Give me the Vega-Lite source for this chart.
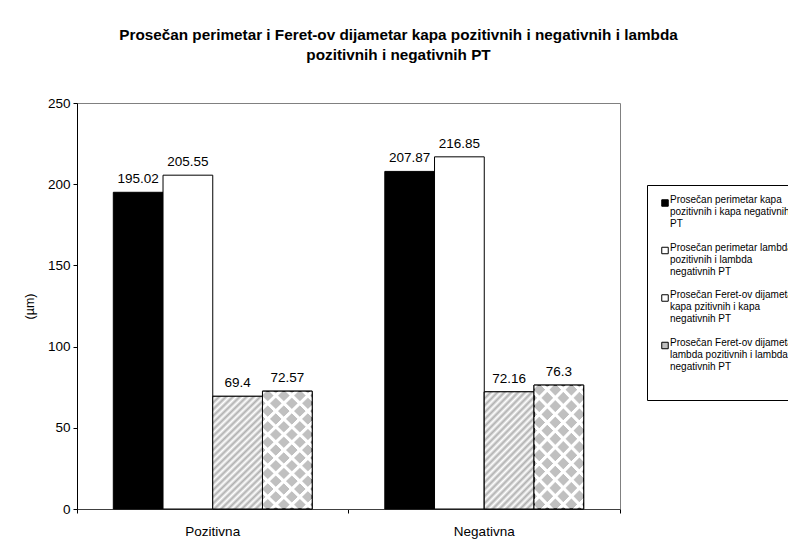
{
  "$schema": "https://vega.github.io/schema/vega-lite/v6.json",
  "width": 543,
  "height": 406,
  "autosize": "none",
  "padding": {"left": 77, "top": 103, "right": 168, "bottom": 34},
  "background": "white",
  "config": {
    "font": "Liberation Sans",
    "view": {"stroke": "#808080", "strokeWidth": 1},
    "axis": {"labelFont": "Liberation Sans", "titleFont": "Liberation Sans", "labelColor": "black", "titleColor": "black", "domainColor": "black", "tickColor": "black", "grid": false}
  },
  "title": {
    "text": ["Prosečan perimetar i Feret-ov dijametar kapa pozitivnih i negativnih i lambda", "pozitivnih i negativnih PT"],
    "font": "Liberation Sans",
    "fontSize": 15.3,
    "fontWeight": "bold",
    "color": "black",
    "anchor": "middle",
    "dx": 50,
    "lineHeight": 20,
    "offset": 33
  },
  "data": {
    "values": [
      {"cat": "Pozitivna", "s": "Prosečan perimetar kapa pozitivnih i kapa negativnih PT", "v": 195.02},
      {"cat": "Pozitivna", "s": "Prosečan perimetar lambda pozitivnih i lambda negativnih PT", "v": 205.55},
      {"cat": "Pozitivna", "s": "Prosečan Feret-ov dijametar kapa pzitivnih i kapa negativnih PT", "v": 69.4},
      {"cat": "Pozitivna", "s": "Prosečan Feret-ov dijametar lambda pozitivnih i lambda negativnih PT", "v": 72.57},
      {"cat": "Negativna", "s": "Prosečan perimetar kapa pozitivnih i kapa negativnih PT", "v": 207.87},
      {"cat": "Negativna", "s": "Prosečan perimetar lambda pozitivnih i lambda negativnih PT", "v": 216.85},
      {"cat": "Negativna", "s": "Prosečan Feret-ov dijametar kapa pzitivnih i kapa negativnih PT", "v": 72.16},
      {"cat": "Negativna", "s": "Prosečan Feret-ov dijametar lambda pozitivnih i lambda negativnih PT", "v": 76.3}
    ]
  },
  "encoding": {
    "x": {
      "field": "cat", "type": "nominal", "sort": ["Pozitivna", "Negativna"],
      "scale": {"paddingInner": 0, "paddingOuter": 0},
      "axis": {"title": null, "labelAngle": 0, "labelFontSize": 13.5, "labelPadding": 11, "tickSize": 4, "bandPosition": 1, "tickExtra": true, "domainColor": "#404040"}
    },
    "xOffset": {
      "field": "s", "type": "nominal",
      "scale": {"domain": ["Prosečan perimetar kapa pozitivnih i kapa negativnih PT", "Prosečan perimetar lambda pozitivnih i lambda negativnih PT", "Prosečan Feret-ov dijametar kapa pzitivnih i kapa negativnih PT", "Prosečan Feret-ov dijametar lambda pozitivnih i lambda negativnih PT"], "paddingInner": 0, "paddingOuter": 0.73}
    },
    "y": {
      "field": "v", "type": "quantitative",
      "scale": {"domain": [0, 250], "nice": false},
      "axis": {"title": "(µm)", "titleFontSize": 12.5, "titleFontWeight": "normal", "titlePadding": 11, "values": [0, 50, 100, 150, 200, 250], "labelFontSize": 13.5, "tickSize": 4, "labelPadding": 3}
    }
  },
  "layer": [
    {
      "mark": {"type": "bar", "stroke": "black", "strokeWidth": 1},
      "encoding": {
        "color": {
          "field": "s", "type": "nominal",
          "scale": {"domain": ["Prosečan perimetar kapa pozitivnih i kapa negativnih PT", "Prosečan perimetar lambda pozitivnih i lambda negativnih PT", "Prosečan Feret-ov dijametar kapa pzitivnih i kapa negativnih PT", "Prosečan Feret-ov dijametar lambda pozitivnih i lambda negativnih PT"], "range": ["#000000", "#ffffff", "#ffffff", "#c0c0c0"]},
          "legend": {
            "title": " ",
            "titleOrient": "bottom",
            "titleFontSize": 10,
            "titlePadding": 5,
            "orient": "none",
            "direction": "vertical",
            "legendX": 570,
            "legendY": 82,
            "padding": 13,
            "strokeColor": "black",
            "fillColor": "white",
            "symbolType": "square",
            "symbolSize": 42,
            "symbolStrokeColor": "black",
            "symbolStrokeWidth": 1,
            "symbolOpacity": 1,
            "labelFont": "Liberation Sans",
            "labelFontSize": 10,
            "labelColor": "black",
            "labelLimit": 400,
            "labelOffset": 0,
            "labelBaseline": "alphabetic",
            "labelLineHeight": 10.7,
            "rowPadding": 13.5,
            "labelExpr": "datum.label == 'Prosečan perimetar kapa pozitivnih i kapa negativnih PT' ? ['Prosečan perimetar kapa', 'pozitivnih i kapa negativnih', 'PT'] : datum.label == 'Prosečan perimetar lambda pozitivnih i lambda negativnih PT' ? ['Prosečan perimetar lambda', 'pozitivnih i lambda', 'negativnih PT'] : datum.label == 'Prosečan Feret-ov dijametar kapa pzitivnih i kapa negativnih PT' ? ['Prosečan Feret-ov dijametar', 'kapa pzitivnih i kapa', 'negativnih PT'] : ['Prosečan Feret-ov dijametar', 'lambda pozitivnih i lambda', 'negativnih PT']"
          }
        }
      }
    },
    {
      "transform": [{"filter": "datum.s == 'Prosečan Feret-ov dijametar kapa pzitivnih i kapa negativnih PT'"}],
      "mark": {
        "type": "bar", "stroke": "black", "strokeWidth": 1,
        "fill": {
          "gradient": "linear", "x1": 0, "y1": 0, "x2": 0.52, "y2": 1.206,
          "stops": [
            {"offset": 0, "color": "#b0b0b0"}, {"offset": 0.020833, "color": "#ffffff"}, {"offset": 0.041667, "color": "#b0b0b0"}, {"offset": 0.0625, "color": "#ffffff"},
            {"offset": 0.083333, "color": "#b0b0b0"}, {"offset": 0.104167, "color": "#ffffff"}, {"offset": 0.125, "color": "#b0b0b0"}, {"offset": 0.145833, "color": "#ffffff"},
            {"offset": 0.166667, "color": "#b0b0b0"}, {"offset": 0.1875, "color": "#ffffff"}, {"offset": 0.208333, "color": "#b0b0b0"}, {"offset": 0.229167, "color": "#ffffff"},
            {"offset": 0.25, "color": "#b0b0b0"}, {"offset": 0.270833, "color": "#ffffff"}, {"offset": 0.291667, "color": "#b0b0b0"}, {"offset": 0.3125, "color": "#ffffff"},
            {"offset": 0.333333, "color": "#b0b0b0"}, {"offset": 0.354167, "color": "#ffffff"}, {"offset": 0.375, "color": "#b0b0b0"}, {"offset": 0.395833, "color": "#ffffff"},
            {"offset": 0.416667, "color": "#b0b0b0"}, {"offset": 0.4375, "color": "#ffffff"}, {"offset": 0.458333, "color": "#b0b0b0"}, {"offset": 0.479167, "color": "#ffffff"},
            {"offset": 0.5, "color": "#b0b0b0"}, {"offset": 0.520833, "color": "#ffffff"}, {"offset": 0.541667, "color": "#b0b0b0"}, {"offset": 0.5625, "color": "#ffffff"},
            {"offset": 0.583333, "color": "#b0b0b0"}, {"offset": 0.604167, "color": "#ffffff"}, {"offset": 0.625, "color": "#b0b0b0"}, {"offset": 0.645833, "color": "#ffffff"},
            {"offset": 0.666667, "color": "#b0b0b0"}, {"offset": 0.6875, "color": "#ffffff"}, {"offset": 0.708333, "color": "#b0b0b0"}, {"offset": 0.729167, "color": "#ffffff"},
            {"offset": 0.75, "color": "#b0b0b0"}, {"offset": 0.770833, "color": "#ffffff"}, {"offset": 0.791667, "color": "#b0b0b0"}, {"offset": 0.8125, "color": "#ffffff"},
            {"offset": 0.833333, "color": "#b0b0b0"}, {"offset": 0.854167, "color": "#ffffff"}, {"offset": 0.875, "color": "#b0b0b0"}, {"offset": 0.895833, "color": "#ffffff"},
            {"offset": 0.916667, "color": "#b0b0b0"}, {"offset": 0.9375, "color": "#ffffff"}, {"offset": 0.958333, "color": "#b0b0b0"}, {"offset": 0.979167, "color": "#ffffff"},
            {"offset": 1, "color": "#b0b0b0"}
          ]
        }
      }
    },
    {
      "transform": [{"filter": "datum.s == 'Prosečan Feret-ov dijametar lambda pozitivnih i lambda negativnih PT'"}],
      "mark": {
        "type": "bar", "strokeWidth": 0,
        "fill": {
          "gradient": "linear", "x1": 0, "y1": 0, "x2": 0.51, "y2": 1.245,
          "stops": [
            {"offset": 0, "color": "#ffffff"}, {"offset": 0.0182, "color": "#ffffff"}, {"offset": 0.0273, "color": "rgba(255,255,255,0)"}, {"offset": 0.0864, "color": "rgba(255,255,255,0)"},
            {"offset": 0.0909, "color": "#ffffff"}, {"offset": 0.1091, "color": "#ffffff"}, {"offset": 0.1182, "color": "rgba(255,255,255,0)"}, {"offset": 0.1773, "color": "rgba(255,255,255,0)"},
            {"offset": 0.1818, "color": "#ffffff"}, {"offset": 0.2, "color": "#ffffff"}, {"offset": 0.2091, "color": "rgba(255,255,255,0)"}, {"offset": 0.2682, "color": "rgba(255,255,255,0)"},
            {"offset": 0.2727, "color": "#ffffff"}, {"offset": 0.2909, "color": "#ffffff"}, {"offset": 0.3, "color": "rgba(255,255,255,0)"}, {"offset": 0.3591, "color": "rgba(255,255,255,0)"},
            {"offset": 0.3636, "color": "#ffffff"}, {"offset": 0.3818, "color": "#ffffff"}, {"offset": 0.3909, "color": "rgba(255,255,255,0)"}, {"offset": 0.45, "color": "rgba(255,255,255,0)"},
            {"offset": 0.4545, "color": "#ffffff"}, {"offset": 0.4727, "color": "#ffffff"}, {"offset": 0.4818, "color": "rgba(255,255,255,0)"}, {"offset": 0.5409, "color": "rgba(255,255,255,0)"},
            {"offset": 0.5455, "color": "#ffffff"}, {"offset": 0.5636, "color": "#ffffff"}, {"offset": 0.5727, "color": "rgba(255,255,255,0)"}, {"offset": 0.6318, "color": "rgba(255,255,255,0)"},
            {"offset": 0.6364, "color": "#ffffff"}, {"offset": 0.6545, "color": "#ffffff"}, {"offset": 0.6636, "color": "rgba(255,255,255,0)"}, {"offset": 0.7227, "color": "rgba(255,255,255,0)"},
            {"offset": 0.7273, "color": "#ffffff"}, {"offset": 0.7455, "color": "#ffffff"}, {"offset": 0.7545, "color": "rgba(255,255,255,0)"}, {"offset": 0.8136, "color": "rgba(255,255,255,0)"},
            {"offset": 0.8182, "color": "#ffffff"}, {"offset": 0.8364, "color": "#ffffff"}, {"offset": 0.8455, "color": "rgba(255,255,255,0)"}, {"offset": 0.9045, "color": "rgba(255,255,255,0)"},
            {"offset": 0.9091, "color": "#ffffff"}, {"offset": 0.9273, "color": "#ffffff"}, {"offset": 0.9364, "color": "rgba(255,255,255,0)"}, {"offset": 0.9955, "color": "rgba(255,255,255,0)"},
            {"offset": 1, "color": "#ffffff"}
          ]
        }
      }
    },
    {
      "transform": [{"filter": "datum.s == 'Prosečan Feret-ov dijametar lambda pozitivnih i lambda negativnih PT'"}],
      "mark": {
        "type": "bar", "stroke": "black", "strokeWidth": 1,
        "fill": {
          "gradient": "linear", "x1": 0, "y1": 1, "x2": 0.51, "y2": -0.245,
          "stops": [
            {"offset": 0, "color": "#ffffff"}, {"offset": 0.0182, "color": "#ffffff"}, {"offset": 0.0273, "color": "rgba(255,255,255,0)"}, {"offset": 0.0864, "color": "rgba(255,255,255,0)"},
            {"offset": 0.0909, "color": "#ffffff"}, {"offset": 0.1091, "color": "#ffffff"}, {"offset": 0.1182, "color": "rgba(255,255,255,0)"}, {"offset": 0.1773, "color": "rgba(255,255,255,0)"},
            {"offset": 0.1818, "color": "#ffffff"}, {"offset": 0.2, "color": "#ffffff"}, {"offset": 0.2091, "color": "rgba(255,255,255,0)"}, {"offset": 0.2682, "color": "rgba(255,255,255,0)"},
            {"offset": 0.2727, "color": "#ffffff"}, {"offset": 0.2909, "color": "#ffffff"}, {"offset": 0.3, "color": "rgba(255,255,255,0)"}, {"offset": 0.3591, "color": "rgba(255,255,255,0)"},
            {"offset": 0.3636, "color": "#ffffff"}, {"offset": 0.3818, "color": "#ffffff"}, {"offset": 0.3909, "color": "rgba(255,255,255,0)"}, {"offset": 0.45, "color": "rgba(255,255,255,0)"},
            {"offset": 0.4545, "color": "#ffffff"}, {"offset": 0.4727, "color": "#ffffff"}, {"offset": 0.4818, "color": "rgba(255,255,255,0)"}, {"offset": 0.5409, "color": "rgba(255,255,255,0)"},
            {"offset": 0.5455, "color": "#ffffff"}, {"offset": 0.5636, "color": "#ffffff"}, {"offset": 0.5727, "color": "rgba(255,255,255,0)"}, {"offset": 0.6318, "color": "rgba(255,255,255,0)"},
            {"offset": 0.6364, "color": "#ffffff"}, {"offset": 0.6545, "color": "#ffffff"}, {"offset": 0.6636, "color": "rgba(255,255,255,0)"}, {"offset": 0.7227, "color": "rgba(255,255,255,0)"},
            {"offset": 0.7273, "color": "#ffffff"}, {"offset": 0.7455, "color": "#ffffff"}, {"offset": 0.7545, "color": "rgba(255,255,255,0)"}, {"offset": 0.8136, "color": "rgba(255,255,255,0)"},
            {"offset": 0.8182, "color": "#ffffff"}, {"offset": 0.8364, "color": "#ffffff"}, {"offset": 0.8455, "color": "rgba(255,255,255,0)"}, {"offset": 0.9045, "color": "rgba(255,255,255,0)"},
            {"offset": 0.9091, "color": "#ffffff"}, {"offset": 0.9273, "color": "#ffffff"}, {"offset": 0.9364, "color": "rgba(255,255,255,0)"}, {"offset": 0.9955, "color": "rgba(255,255,255,0)"},
            {"offset": 1, "color": "#ffffff"}
          ]
        }
      }
    },
    {
      "mark": {"type": "text", "baseline": "alphabetic", "dy": -9, "fontSize": 13.5, "font": "Liberation Sans", "color": "black"},
      "encoding": {
        "text": {"field": "v", "type": "nominal"}
      }
    }
  ]
}
